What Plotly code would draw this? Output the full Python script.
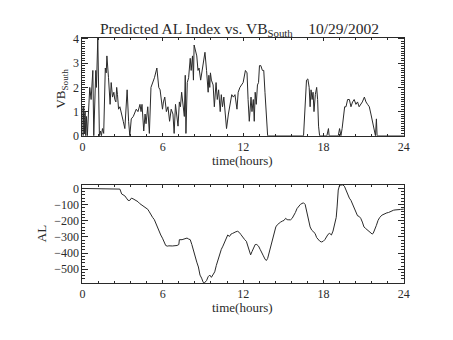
import plotly.graph_objects as go

# VB south (hours, nT-ish units) read as a jagged trace
t_vb = [0.00, 0.05, 0.10, 0.15, 0.20, 0.25, 0.30, 0.37, 0.45, 0.55, 0.65, 0.78, 0.85, 0.92,
        1.00, 1.05, 1.15, 1.27, 1.35, 1.42, 1.50, 1.59, 1.71, 1.78, 1.83, 1.95, 2.00, 2.07,
        2.15, 2.25, 2.35, 2.42, 2.50, 2.56, 2.62, 2.70, 2.80, 2.90, 3.05, 3.17, 3.34, 3.45,
        3.54, 3.65, 3.80, 4.02, 4.15, 4.30, 4.38, 4.45, 4.58, 4.68, 4.75, 4.88, 5.00, 5.12,
        5.25, 5.38, 5.56, 5.70, 5.80, 5.98, 6.05, 6.15, 6.27, 6.39, 6.51, 6.63, 6.76, 6.85,
        6.95, 7.05, 7.14, 7.24, 7.32, 7.41, 7.54, 7.61, 7.68, 7.73, 7.83, 7.93, 8.05, 8.12,
        8.22, 8.29, 8.34, 8.46, 8.54, 8.63, 8.71, 8.83, 8.95, 9.15, 9.27, 9.39, 9.44, 9.51,
        9.56, 9.63, 9.76, 9.85, 9.98, 10.07, 10.17, 10.29, 10.37, 10.46, 10.56, 10.66, 10.76,
        10.90, 11.02, 11.15, 11.27, 11.39, 11.54, 11.63, 11.76, 11.88, 12.00, 12.17, 12.29,
        12.37, 12.46, 12.59, 12.66, 12.76, 12.83, 12.90, 12.98, 13.07, 13.15, 13.22, 13.32,
        13.44, 13.54, 13.63, 13.73, 13.83, 16.51, 16.56, 16.63, 16.73, 16.83, 16.93, 17.00,
        17.07, 17.15, 17.22, 17.29, 17.39, 17.49, 17.56, 17.63, 17.71, 18.25, 18.37, 18.42,
        19.10, 19.20, 19.30, 19.39, 19.51, 19.58, 19.68, 19.80, 19.93, 20.05, 20.17, 20.29,
        20.42, 20.54, 20.66, 20.78, 20.90, 21.05, 21.17, 21.29, 21.42, 21.54, 21.66, 21.78,
        21.88, 21.95, 22.00, 24.00]
vb = [1.2, 0.0, 1.2, 0.1, 1.0, 0.0, 0.8, 0.0, 0.9, 2.0, 1.5, 2.7, 0.0, 1.5,
      2.7, 2.0, 4.05, 0.0, 0.2, 0.0, 0.3, 0.1, 2.8, 2.6, 3.3, 2.4, 2.0, 1.3,
      2.2, 1.6, 1.8, 1.5, 1.4, 2.0, 1.7, 1.1, 1.2, 0.9, 0.6, 0.3, 1.9, 0.6,
      0.0, 0.7, 0.8, 1.1, 1.0, 1.3, 1.0, 1.3, 0.2, 0.9, 0.5, 1.2, 0.1, 2.0,
      2.2, 2.4, 2.8, 2.0, 1.9, 1.1, 1.4, 1.6, 1.0, 1.2, 0.6, 1.1, 0.9, 0.1,
      1.3, 0.7, 0.4, 1.4, 1.2, 1.8, 1.0, 0.8, 2.5, 0.1, 2.2, 2.4, 3.2, 2.7,
      3.3, 2.3, 3.75, 3.5, 3.3, 2.7, 2.8, 2.3, 2.7, 3.45, 2.7, 1.8, 2.5, 2.0,
      2.6, 2.3, 2.1, 1.2, 2.2, 1.5, 1.9, 1.0, 1.7, 1.2, 1.6, 1.0, 0.3,
      0.9, 1.3, 1.7, 1.6, 1.7, 1.1, 1.8, 2.0, 2.1, 2.2, 2.7, 2.6,
      1.5, 0.6, 1.6, 1.0, 1.5, 0.6, 1.8, 1.3, 2.1, 2.2, 2.9, 2.9,
      2.7, 2.7, 1.8, 0.8, 0.0, 0.0, 0.5, 1.7, 2.3, 2.35, 2.0, 1.2,
      1.9, 1.5, 1.8, 1.0, 1.7, 2.0, 1.5, 0.4, 0.0, 0.0, 0.3, 0.0,
      0.0, 0.3, 0.0, 0.3, 0.9, 1.2, 1.2, 1.5, 1.5, 1.2, 1.4, 1.5,
      1.3, 1.4, 1.2, 1.3, 1.4, 1.6, 1.4, 1.3, 1.2, 0.9, 0.6, 0.3,
      0.0, 0.7, 0.0, 0.0]

# Predicted AL index
t_al = [0.00, 2.56, 2.68, 2.80, 2.93, 3.05, 3.17, 3.29, 3.41, 3.54, 3.66, 3.78, 3.90, 4.02,
        4.15, 4.27, 4.39, 4.51, 4.63, 4.76, 4.88, 5.00, 5.12, 5.24, 5.37, 5.49, 5.61, 5.73,
        5.85, 5.98, 6.10, 6.22, 6.34, 6.46, 6.71, 6.95, 7.07, 7.20, 7.24, 7.44, 7.56, 7.68,
        7.81, 7.93, 8.05, 8.17, 8.29, 8.42, 8.54, 8.66, 8.78, 8.90, 9.02, 9.10, 9.20, 9.27,
        9.39, 9.51, 9.63, 9.76, 9.88, 10.00, 10.12, 10.24, 10.37, 10.49, 10.61, 10.73, 10.85,
        10.98, 11.10, 11.22, 11.34, 11.46, 11.59, 11.71, 11.83, 11.95, 12.12, 12.24, 12.37,
        12.49, 12.56, 12.66, 12.78, 12.90, 13.02, 13.15, 13.27, 13.39, 13.51, 13.63, 13.73,
        13.83, 13.95, 14.07, 14.20, 14.32, 14.44, 14.56, 14.68, 14.80, 14.93, 15.05, 15.17,
        15.29, 15.41, 15.54, 15.66, 15.78, 15.90, 16.02, 16.15, 16.27, 16.39, 16.51, 16.63,
        16.76, 16.88, 17.00, 17.12, 17.24, 17.37, 17.49, 17.61, 17.73, 17.85, 17.98, 18.10,
        18.22, 18.34, 18.46, 18.59, 18.71, 18.83, 18.95, 19.02, 19.10, 19.20, 19.32, 19.44,
        19.56, 19.68, 19.81, 19.93, 20.05, 20.17, 20.29, 20.42, 20.54, 20.66, 20.78, 20.90,
        21.02, 21.15, 21.27, 21.39, 21.51, 21.63, 21.71, 21.83, 21.95, 22.07, 22.20, 22.37,
        22.49, 22.61, 22.73, 22.85, 22.98, 23.10, 23.22, 23.34, 23.51, 23.75, 24.00]
al = [0, 0, -1, -4, -34, -40, -46, -60, -74, -74, -60, -64, -70, -74,
      -82, -93, -99, -105, -113, -119, -129, -145, -165, -179, -193, -218, -248, -268,
      -288, -308, -331, -353, -357, -355, -356, -355, -353, -347, -317, -317, -313, -313,
      -307, -313, -317, -347, -387, -427, -456, -486, -536, -555, -581, -585, -578, -570,
      -546, -536, -550, -536, -516, -476, -443, -403, -377, -357, -337, -317, -288,
      -297, -282, -278, -272, -268, -265, -272, -285, -300, -317, -327, -357,
      -397, -411, -391, -363, -347, -347, -357, -377, -403, -417, -437, -446,
      -433, -397, -357, -317, -278, -238, -224, -214, -208, -202, -198, -185,
      -193, -194, -194, -185, -169, -149, -125, -109, -99, -93, -89, -99,
      -149, -198, -238, -258, -268, -278, -304, -317, -327, -331, -327, -317,
      -297, -284, -278, -288, -264, -228, -179, -109, -10, 20, 22, 22,
      14, -10, -40, -60, -74, -99, -119, -149, -169, -173, -185, -208,
      -238, -248, -258, -264, -274, -282, -278, -258, -228, -198, -179, -165,
      -159, -155, -151, -149, -143, -139, -135, -133, -133, -130, -128]

x_ticks = [0, 6, 12, 18, 24]

W, H = 453, 340
INK = "#2a2a2a"
FONT = "Liberation Serif"


def px(x):
    return x / W


def py(y):
    return 1 - y / H


fig = go.Figure()
fig.add_trace(go.Scatter(x=t_vb, y=vb, mode="lines", line=dict(color=INK, width=1),
                         xaxis="x", yaxis="y", showlegend=False))
fig.add_trace(go.Scatter(x=t_al, y=al, mode="lines", line=dict(color=INK, width=1),
                         xaxis="x2", yaxis="y2", showlegend=False))

common_x = dict(range=[0, 24], tickvals=x_ticks, ticks="inside", ticklen=3, tickcolor=INK,
                showline=True, linecolor=INK, linewidth=1, mirror="ticks", showgrid=False,
                zeroline=False, tickfont=dict(family=FONT, size=12, color=INK),
                minor=dict(dtick=1.2, ticks="inside", ticklen=2, tickcolor=INK, showgrid=False))
common_y = dict(ticks="inside", ticklen=6, tickcolor=INK, showline=True, linecolor=INK,
                linewidth=1, mirror="ticks", showgrid=False, zeroline=False,
                tickfont=dict(family=FONT, size=12, color=INK))

fig.update_layout(
    width=W, height=H,
    margin=dict(l=0, r=0, t=0, b=0),
    paper_bgcolor="white", plot_bgcolor="white",
    xaxis=dict(domain=[px(81), px(409)], anchor="y", **common_x),
    yaxis=dict(domain=[py(135), py(33)], anchor="x", range=[0, max(vb)], dtick=1,
               minor=dict(dtick=0.1, ticks="inside", ticklen=3, tickcolor=INK, showgrid=False),
               **common_y),
    xaxis2=dict(domain=[px(81), px(409)], anchor="y2", **common_x),
    yaxis2=dict(domain=[py(288), py(186)], anchor="x2", range=[min(al), max(al)], dtick=100,
                minor=dict(dtick=20, ticks="inside", ticklen=3, tickcolor=INK, showgrid=False),
                **common_y),
)

nb = "\u00a0"
labels = [
    dict(text="Predicted AL Index vs. VB<sub>South</sub>" + nb * 4 + "10/29/2002",
         x=px(241), y=py(24), size=15.5, angle=0),
    dict(text="time(hours)", x=px(244), y=py(161), size=13, angle=0),
    dict(text="time(hours)", x=px(244), y=py(314), size=13, angle=0),
    dict(text="VB<sub>South</sub>", x=px(60), y=py(86), size=13, angle=-90),
    dict(text="AL", x=px(40), y=py(237), size=13, angle=-90),
]
for lb in labels:
    fig.add_annotation(text=lb["text"], x=lb["x"], y=lb["y"], xref="paper", yref="paper",
                       xanchor="center", yanchor="middle", showarrow=False,
                       textangle=lb["angle"], font=dict(family=FONT, size=lb["size"], color=INK))

fig.write_html("out.html")
